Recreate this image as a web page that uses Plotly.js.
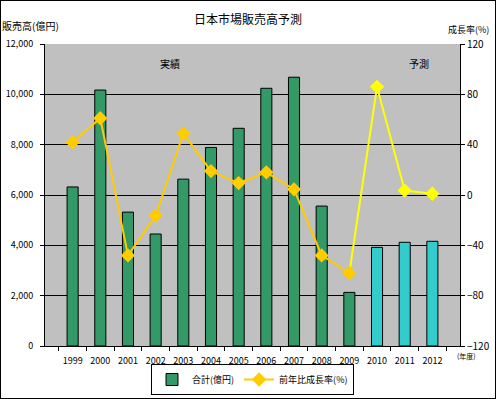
<!DOCTYPE html>
<html><head><meta charset="utf-8">
<script src="https://cdn.plot.ly/plotly-3.0.1.min.js"></script>
<style>
html,body{margin:0;padding:0;background:#fff;}
#wrap{position:relative;width:496px;height:399px;}
#border{position:absolute;left:0;top:0;width:494px;height:397px;border:1px solid #000;pointer-events:none;}
</style>
</head><body>
<div id="wrap"><div id="chart" style="width:496px;height:399px;"></div><div id="border"></div></div>
<script>
const years = ['1999','2000','2001','2002','2003','2004','2005','2006','2007','2008','2009','2010','2011','2012'];
const actualYears = ['1999','2000','2001','2002','2003','2004','2005','2006','2007','2008','2009'];
const actualSales = [6320, 10170, 5320, 4450, 6630, 7890, 8650, 10240, 10680, 5560, 2130];
const forecastYears = ['2010','2011','2012'];
const forecastSales = [3920, 4120, 4160];
const actualGrowth = [42, 61, -48, -16.5, 49, 19, 9.5, 18, 4.5, -48, -62];
const forecastLineYears = ['2009','2010','2011','2012'];
const forecastGrowth = [-62, 86, 3.5, 1];

const font = "'Noto Sans CJK JP', 'DejaVu Sans', sans-serif";

const traces = [
  {type:'bar', x:actualYears, y:actualSales, name:'合計(億円)', width:0.4,
   marker:{color:'#339966', line:{color:'#000', width:1}}},
  {type:'bar', x:forecastYears, y:forecastSales, name:'合計(億円)', width:0.4, showlegend:false,
   marker:{color:'#33CCCC', line:{color:'#000', width:1}}},
  {type:'scatter', mode:'lines', x:forecastLineYears.slice(0,2), y:forecastGrowth.slice(0,2), yaxis:'y2', showlegend:false,
   line:{color:'#FFFF00', width:2}},
  {type:'scatter', mode:'lines+markers', x:forecastLineYears.slice(1), y:forecastGrowth.slice(1), yaxis:'y2', showlegend:false,
   line:{color:'#FFFF00', width:2}, marker:{symbol:'diamond', size:11, color:'#FFFF00'}},
  {type:'scatter', mode:'lines+markers', x:actualYears, y:actualGrowth, yaxis:'y2', name:'前年比成長率(%)',
   line:{color:'#FFCC00', width:2}, marker:{symbol:'diamond', size:11, color:'#FFCC00'}}
];

const layout = {
  width:496, height:399,
  margin:{l:45, r:36, t:44, b:53, autoexpand:false},
  paper_bgcolor:'#fff', plot_bgcolor:'#C0C0C0',
  barmode:'overlay',
  font:{family:font, size:10, color:'#000'},
  title:{text:'日本市場販売高予測', font:{family:font, size:12, color:'#000'}, x:0.5, xanchor:'center', yref:'container', y:1-20/399, yanchor:'middle', automargin:false},
  showlegend:true,
  legend:{orientation:'h', x:0.5, xanchor:'center', yref:'container', y:1-364/399, yanchor:'top',
    bordercolor:'#000', borderwidth:1, bgcolor:'#fff', font:{family:font, size:9},
    itemwidth:30, tracegroupgap:0},
  xaxis:{type:'category', categoryorder:'array', categoryarray:years, tickangle:0, automargin:false,
    showline:true, linecolor:'#000', linewidth:1, ticks:'outside', tickson:'boundaries', ticklen:4, tickcolor:'#000',
    showgrid:false, tickfont:{family:font, size:9}, fixedrange:true, ticklabelstandoff:6},
  yaxis:{range:[0,12000], dtick:2000, tickformat:',d', showline:true, linecolor:'#000', linewidth:1, automargin:false,
    ticks:'outside', ticklen:4, tickcolor:'#000', showgrid:true, gridcolor:'#000', gridwidth:1,
    zeroline:false, tickfont:{family:font, size:9}, ticklabelstandoff:5},
  yaxis2:{overlaying:'y', side:'right', range:[-120,120], dtick:40, showline:true, linecolor:'#000', linewidth:1, automargin:false,
    ticks:'outside', ticklen:4, tickcolor:'#000', showgrid:false, zeroline:false, tickfont:{family:font, size:10}},
  annotations:[
    {text:'販売高(億円)', xref:'paper', yref:'paper', x:-45/415, xanchor:'left', y:1+(44-25)/302, yanchor:'middle', showarrow:false, font:{family:font, size:10}},
    {text:'成長率(%)', xref:'paper', yref:'paper', x:1+(491-460)/415, xanchor:'right', y:1+(44-30)/302, yanchor:'middle', showarrow:false, font:{family:font, size:9}},
    {text:'(年度)', xref:'paper', yref:'paper', x:1+(455-460)/415, xanchor:'left', y:-(356-346)/302, yanchor:'middle', showarrow:false, font:{family:font, size:7}},
    {text:'実績', xref:'paper', yref:'paper', x:(170-45)/415, xanchor:'center', y:1-(63-44)/302, yanchor:'middle', showarrow:false, font:{family:font, size:10}},
    {text:'予測', xref:'paper', yref:'paper', x:(419-45)/415, xanchor:'center', y:1-(63-44)/302, yanchor:'middle', showarrow:false, font:{family:font, size:10}}
  ]
};

Plotly.newPlot('chart', traces, layout, {displayModeBar:false, staticPlot:true});
</script>
</body></html>
